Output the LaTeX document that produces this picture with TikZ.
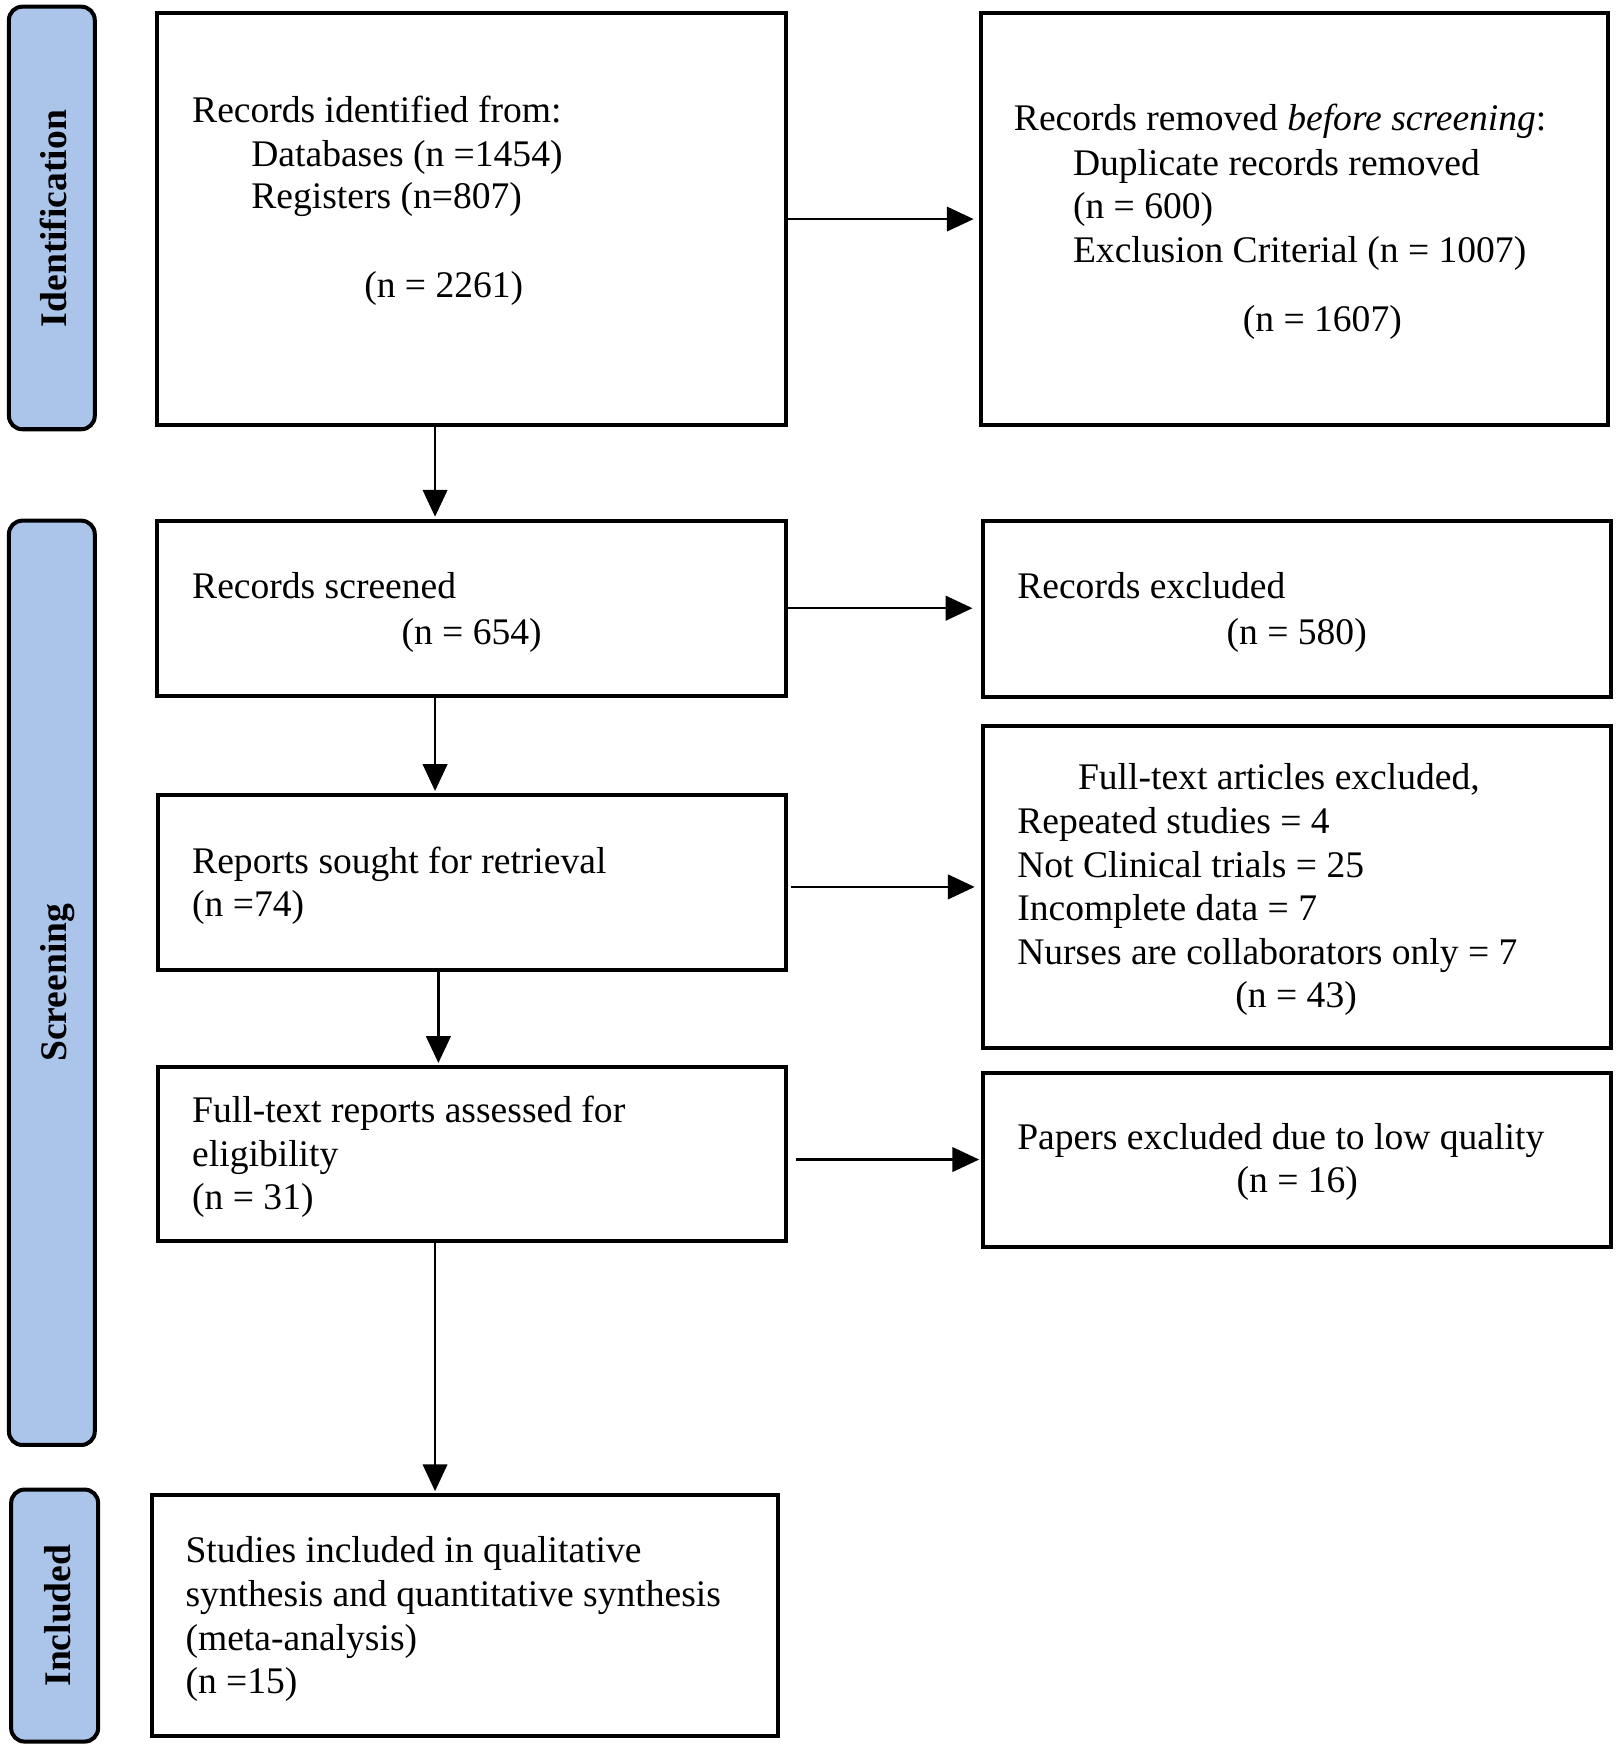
\documentclass[tikz,border=0pt]{standalone}
\usepackage{fontspec}
\setmainfont{Liberation Serif}
\usetikzlibrary{arrows.meta}
\definecolor{sidefill}{RGB}{170,196,234}
\begin{document}
\begin{tikzpicture}[x=0.5pt,y=-0.5pt,
  box/.style={draw, line width=1.8pt, rectangle, inner sep=0pt},
  side/.style={draw, line width=1.8pt, fill=sidefill, rounded corners=6pt, inner sep=0pt},
  txt/.style={anchor=base west, inner sep=0pt, font=\fontsize{16.85}{19.5}\selectfont},
  ctxt/.style={anchor=base, inner sep=0pt, font=\fontsize{16.85}{19.5}\selectfont},
  stxt/.style={anchor=base, inner sep=0pt, rotate=90, font=\fontsize{16.85}{19.5}\selectfont\bfseries},
  arr/.style={line width=1pt, -{Triangle[length=12pt,width=11pt]}}
]
\useasboundingbox (0,0) rectangle (1450,1566);
\fill[white] (0,0) rectangle (1450,1566);

% side bars
\node[side, minimum width=38.5pt, minimum height=189.5pt] (s1) at (46.5,195.5) {};
\node[side, minimum width=38.5pt, minimum height=414.5pt] (s2) at (46.5,881.5) {};
\node[side, minimum width=39pt, minimum height=113pt] (s3) at (49,1449) {};
\node[stxt] (s1t) at (60,196) {Identification};
\node[stxt] (s2t) at (60,881.5) {Screening};
\node[stxt] (s3t) at (63,1449) {Included};

% boxes
\node[box, minimum width=282pt, minimum height=184.5pt] (b1) at (423,196.5) {};
\node[box, minimum width=281pt, minimum height=184.5pt] (b2) at (1161,196.5) {};
\node[box, minimum width=282pt, minimum height=78.5pt] (b3) at (423,545.5) {};
\node[box, minimum width=281.5pt, minimum height=79pt] (b4) at (1163.5,546) {};
\node[box, minimum width=281.5pt, minimum height=78.5pt] (b5) at (423.5,791.5) {};
\node[box, minimum width=281.5pt, minimum height=144.5pt] (b6) at (1163.5,795.5) {};
\node[box, minimum width=281.5pt, minimum height=78pt] (b7) at (423.5,1035) {};
\node[box, minimum width=281.5pt, minimum height=78pt] (b8) at (1163.5,1040) {};
\node[box, minimum width=281pt, minimum height=108pt] (b9) at (417,1449) {};

% texts
\node[txt] (t1a) at (172,110) {Records identified from:};
\node[txt] (t1b) at (225,149) {Databases (n =1454)};
\node[txt] (t1c) at (225,187) {Registers (n=807)};
\node[ctxt] (t1d) at (398,267) {(n = 2261)};

\node[txt] (t2a) at (909,117) {Records removed \textit{before screening}:};
\node[txt] (t2b) at (962,157) {Duplicate records removed};
\node[txt] (t2c) at (962,196) {(n = 600)};
\node[txt] (t2d) at (962,235) {Exclusion Criterial (n = 1007)};
\node[ctxt] (t2e) at (1186,297) {(n = 1607)};

\node[txt] (t3a) at (172,537) {Records screened};
\node[ctxt] (t3b) at (423,578) {(n = 654)};

\node[txt] (t4a) at (912,537) {Records excluded};
\node[ctxt] (t4b) at (1163,578) {(n = 580)};

\node[txt] (t5a) at (172,783) {Reports sought for retrieval};
\node[txt] (t5b) at (172,822) {(n =74)};

\node[ctxt] (t6a) at (1147,708) {Full-text articles excluded,};
\node[txt] (t6b) at (912,748) {Repeated studies = 4};
\node[txt] (t6c) at (912,787) {Not Clinical trials = 25};
\node[txt] (t6d) at (912,826) {Incomplete data = 7};
\node[txt] (t6e) at (912,865) {Nurses are collaborators only = 7};
\node[ctxt] (t6f) at (1162.5,904) {(n = 43)};

\node[txt] (t7a) at (172,1007) {Full-text reports assessed for};
\node[txt] (t7b) at (172,1046) {eligibility};
\node[txt] (t7c) at (172,1085) {(n = 31)};

\node[txt] (t8a) at (912,1031) {Papers excluded due to low quality};
\node[ctxt] (t8b) at (1163.5,1070) {(n = 16)};

\node[txt] (t9a) at (166,1401) {Studies included in qualitative};
\node[txt] (t9b) at (166,1441) {synthesis and quantitative synthesis};
\node[txt] (t9c) at (166,1480) {(meta-analysis)};
\node[txt] (t9d) at (166,1519) {(n =15)};

% arrows
\draw[arr, shorten >=2.5pt] (b1.east) -- (b2.west);
\draw[arr, shorten >=4pt] (b3.east) -- (b3.east -| b4.west);
\draw[arr, shorten <=1.5pt, shorten >=3pt] (b5.east |- b6.west) -- (b6.west);
\draw[arr, shorten <=3.5pt, shorten >=1pt] (b7.east |- b8.west) -- (b8.west);

\draw[arr, shorten >=0.9pt] ([xshift=125.5pt]b1.south west) -- ([xshift=125.5pt]b1.south west |- b3.north);
\draw[arr, shorten >=0.9pt] ([xshift=125.5pt]b3.south west) -- ([xshift=125.5pt]b3.south west |- b5.north);
\draw[arr, shorten >=0.9pt] ([xshift=126.5pt]b5.south west) -- ([xshift=126.5pt]b5.south west |- b7.north);
\draw[arr, shorten >=0.9pt] ([xshift=125pt]b7.south west) -- ([xshift=125pt]b7.south west |- b9.north);
\end{tikzpicture}
\end{document}
